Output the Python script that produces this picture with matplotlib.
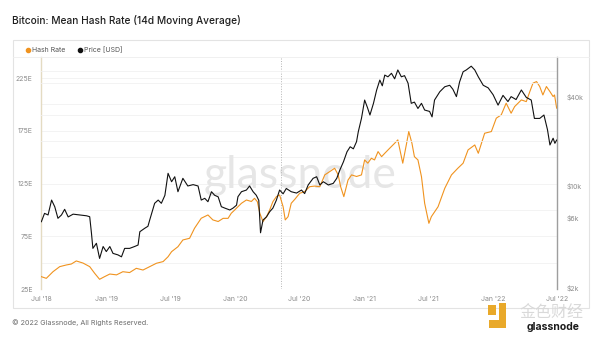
import matplotlib
matplotlib.use('Agg')
import matplotlib.pyplot as plt
import numpy as np
from matplotlib.lines import Line2D
from matplotlib.patches import Rectangle, Polygon
from matplotlib.ticker import FixedLocator, NullLocator

plt.rcParams['font.family'] = ['Inter', 'DejaVu Sans']

# ---------------- data ----------------
hash_dates = [
    "2018-07-01", "2018-07-15", "2018-08-03", "2018-08-22", "2018-09-10", "2018-09-24",
    "2018-10-08", "2018-10-27", "2018-11-15", "2018-11-29", "2018-12-13", "2018-12-27",
    "2019-01-11", "2019-01-30", "2019-02-17", "2019-03-08", "2019-03-27", "2019-04-15",
    "2019-05-04", "2019-05-23", "2019-06-11", "2019-06-25", "2019-07-05", "2019-07-23",
    "2019-08-06", "2019-08-25", "2019-09-08", "2019-09-27", "2019-10-16", "2019-10-30",
    "2019-11-14", "2019-11-28", "2019-12-12", "2019-12-21", "2019-12-31",
    "2020-01-09", "2020-01-19", "2020-02-02", "2020-02-16", "2020-02-25", "2020-03-04",
    "2020-03-11", "2020-03-20", "2020-03-30", "2020-04-08", "2020-04-17", "2020-04-27",
    "2020-05-06", "2020-05-16", "2020-05-22", "2020-05-30", "2020-06-08", "2020-06-18",
    "2020-07-02", "2020-07-16", "2020-07-30", "2020-08-13", "2020-08-28", "2020-09-11",
    "2020-09-25", "2020-10-09", "2020-10-19", "2020-10-26", "2020-11-04", "2020-11-16",
    "2020-11-26", "2020-12-10", "2020-12-24",
    "2021-01-02", "2021-01-11", "2021-01-21", "2021-01-30", "2021-02-09", "2021-02-19",
    "2021-02-28", "2021-03-14", "2021-03-28", "2021-04-06", "2021-04-14", "2021-04-20",
    "2021-04-30", "2021-05-07", "2021-05-16", "2021-05-23", "2021-06-02", "2021-06-12",
    "2021-06-21", "2021-06-29", "2021-07-03", "2021-07-10", "2021-07-29", "2021-08-17",
    "2021-09-05", "2021-09-23", "2021-10-08", "2021-10-22", "2021-11-10", "2021-11-20",
    "2021-12-08", "2021-12-27",
    "2022-01-10", "2022-01-24", "2022-02-07", "2022-02-21", "2022-03-03", "2022-03-22",
    "2022-04-05", "2022-04-15", "2022-04-24", "2022-05-04", "2022-05-13", "2022-05-22",
    "2022-06-01", "2022-06-11", "2022-06-20", "2022-06-24", "2022-06-30",
]
hash_values = [
    36.7, 35.1, 41.4, 46.2, 47.8, 48.7,
    51.6, 49.6, 46.2, 39.9, 34.2, 36.7,
    39.2, 38.4, 41.4, 40.6, 44.6, 43.0,
    46.2, 49.4, 51.0, 55.6, 60.4, 65.1,
    71.5, 73.1, 82.6, 92.1, 95.2, 90.5,
    89.0, 92.0, 92.0, 96.8, 100.0,
    103.0, 106.3, 109.4, 108.0, 111.0, 107.8,
    96.8, 88.9, 93.6, 100.0, 107.8, 112.6,
    114.2, 103.0, 90.5, 93.6, 106.3, 110.0,
    115.8, 117.3, 122.0, 122.6, 122.0, 133.2,
    136.3, 139.5, 133.2, 122.0, 112.6, 128.4,
    133.2, 131.7, 133.2,
    147.4, 144.3, 149.0, 147.4, 155.3, 150.5,
    153.7, 158.5, 163.2, 166.4, 153.7, 144.3,
    161.6, 174.3, 163.2, 150.5, 147.4, 131.5,
    106.3, 93.6, 87.3, 93.6, 103.0, 120.5,
    133.2, 139.5, 144.3, 156.9, 161.6, 153.7,
    172.7, 174.3,
    187.0, 190.1, 201.2, 191.7, 198.0, 204.3,
    202.7, 212.2, 220.2, 221.7, 217.0, 209.0,
    217.0, 212.2, 207.5, 209.0, 196.5,
]

price_dates = [
    "2018-07-01", "2018-07-10", "2018-07-20", "2018-07-30", "2018-08-08", "2018-08-17",
    "2018-08-27", "2018-09-05", "2018-09-15", "2018-09-29", "2018-10-18", "2018-11-06",
    "2018-11-15", "2018-11-20", "2018-11-24", "2018-12-04", "2018-12-13", "2018-12-23",
    "2019-01-01", "2019-01-11", "2019-01-20", "2019-02-03", "2019-02-13", "2019-02-22",
    "2019-03-08", "2019-03-22", "2019-04-01", "2019-04-06", "2019-04-20", "2019-04-29",
    "2019-05-04", "2019-05-18", "2019-05-28", "2019-06-06", "2019-06-16", "2019-06-25",
    "2019-07-05", "2019-07-14", "2019-07-23", "2019-08-06", "2019-08-20", "2019-09-04",
    "2019-09-18", "2019-09-27", "2019-10-07", "2019-10-16", "2019-10-26", "2019-11-04",
    "2019-11-14", "2019-11-23", "2019-12-03", "2019-12-17", "2019-12-26",
    "2020-01-05", "2020-01-09", "2020-01-19", "2020-02-02", "2020-02-11", "2020-02-21",
    "2020-03-01", "2020-03-08", "2020-03-13", "2020-03-20", "2020-03-30", "2020-04-08",
    "2020-04-17", "2020-04-27", "2020-05-06", "2020-05-16", "2020-05-25", "2020-06-08",
    "2020-06-23", "2020-07-07", "2020-07-16", "2020-07-26", "2020-08-09", "2020-08-19",
    "2020-08-28", "2020-09-07", "2020-09-21", "2020-10-05", "2020-10-15", "2020-10-24",
    "2020-11-03", "2020-11-13", "2020-11-22", "2020-12-01", "2020-12-10", "2020-12-15",
    "2020-12-24",
    "2021-01-02", "2021-01-10", "2021-01-17", "2021-01-27", "2021-02-05", "2021-02-14",
    "2021-02-21", "2021-02-28", "2021-03-09", "2021-03-19", "2021-03-28", "2021-04-06",
    "2021-04-16", "2021-04-25", "2021-05-05", "2021-05-14", "2021-05-23", "2021-06-02",
    "2021-06-12", "2021-06-21", "2021-07-05", "2021-07-12", "2021-07-19", "2021-08-03",
    "2021-08-17", "2021-08-31", "2021-09-09", "2021-09-19", "2021-09-28", "2021-10-08",
    "2021-10-17", "2021-10-31", "2021-11-10", "2021-11-20", "2021-12-04", "2021-12-18",
    "2022-01-01", "2022-01-15", "2022-01-29", "2022-02-12", "2022-02-21", "2022-03-07",
    "2022-03-22", "2022-04-05", "2022-04-19", "2022-04-28", "2022-05-13", "2022-05-25",
    "2022-06-04", "2022-06-11", "2022-06-20", "2022-06-25", "2022-06-30",
]
price_values = [
    5650, 6440, 6280, 7930, 7140, 5960,
    6280, 6860, 6090, 6360, 6280, 6200,
    6110, 4710, 3720, 4030, 3180, 3830,
    3540, 3830, 3440, 3360, 3260, 3720,
    3720, 3830, 3920, 4830, 5100, 5260,
    5800, 7540, 7930, 7540, 8540, 12060,
    10570, 11430, 9040, 11150, 9890, 10100,
    9890, 7930, 8150, 7730, 9040, 8550,
    8340, 7150, 6990, 6790, 6990,
    7320, 8360, 9040, 9280, 9890, 9040,
    8550, 7900, 4750, 5800, 6100, 6610,
    6990, 7930, 9280, 8750, 9510, 9040,
    8850, 9280, 8780, 10050, 11150, 11430,
    10050, 10570, 10050, 10300, 11150, 12740,
    14460, 16900, 18280, 17700, 19790, 23140,
    28530,
    38000, 33750, 30060, 36100, 44460, 52000,
    47500, 56200, 54700, 57800, 53000, 60900,
    54700, 55700, 49500, 36100, 36800, 33300,
    36100, 32500, 31800, 29200, 38000, 43300,
    46800, 47900, 45000, 40100, 50500, 59200,
    60900, 64600, 60900, 54700, 47900, 46000,
    41300, 35100, 40900, 37100, 40100, 38300,
    44500, 39600, 38000, 28500, 28500, 30060,
    23900, 18800, 20900, 19300, 20300,
]

hash_ticks = [25, 75, 125, 175, 225]
hash_tick_labels = ["25E", "75E", "125E", "175E", "225E"]
price_ticks = [2000, 6000, 10000, 40000]
price_tick_labels = ["$2k", "$6k", "$10k", "$40k"]
x_ticks = ["2018-07-01", "2019-01-01", "2019-07-01", "2020-01-01", "2020-07-01",
           "2021-01-01", "2021-07-01", "2022-01-01", "2022-07-01"]
x_tick_labels = ["Jul '18", "Jan '19", "Jul '19", "Jan '20", "Jul '20",
                 "Jan '21", "Jul '21", "Jan '22", "Jul '22"]
halving_date = "2020-05-11"

# ---------------- figure ----------------
W, H = 600, 338
fig = plt.figure(figsize=(6, 3.38), dpi=100)
fig.patch.set_facecolor('white')


def fx(x):
    return x / W


def fy(y):
    return 1 - y / H


ORANGE = '#f0931f'
BLACK = '#111111'
TICK_C = '#8c8c8c'

ax = fig.add_axes([fx(41), fy(289), fx(557) - fx(41), fy(57) - fy(289)])
ax.patch.set_visible(False)
ax2 = ax.twinx()

hd = np.array(hash_dates, dtype='datetime64[D]')
pd_ = np.array(price_dates, dtype='datetime64[D]')

ax.plot(hd, hash_values, color=ORANGE, lw=0.8, zorder=3, solid_joinstyle='round')
ax2.plot(pd_, price_values, color=BLACK, lw=0.8, zorder=3, solid_joinstyle='round')

ax.set_xlim(np.datetime64('2018-06-30'), np.datetime64('2022-06-30'))
ax.set_ylim(25, 245)
ax2.set_yscale('log')
ax2.set_ylim(1969, 74600)

# grid lines
for v in np.arange(50, 245, 25):
    ax.axhline(v, color='#f1f1f1', lw=0.6, zorder=0)
for v in [20000, 30000, 50000, 60000]:
    ax2.axhline(v, color='#f1f1f1', lw=0.6, zorder=0)

# halving dotted line
ax.axvline(np.datetime64(halving_date), color='#b5b5b5', lw=0.7,
           ls=(0, (1, 1.6)), zorder=1)

# ticks
ax.set_xticks(np.array(x_ticks, dtype='datetime64[D]'))
ax.set_xticklabels(x_tick_labels)
ax.xaxis.set_minor_locator(NullLocator())
ax.set_yticks(hash_ticks)
ax.set_yticklabels(hash_tick_labels)
ax2.yaxis.set_major_locator(FixedLocator(price_ticks))
ax2.yaxis.set_minor_locator(NullLocator())
ax2.set_yticklabels(price_tick_labels)

ax.tick_params(axis='x', length=0, pad=5, labelsize=5, labelcolor=TICK_C)
ax.tick_params(axis='y', length=0, pad=6, labelsize=5, labelcolor=TICK_C)
ax2.tick_params(axis='y', length=0, pad=7, labelsize=5, labelcolor=TICK_C)

for a in (ax, ax2):
    for s in ('top', 'bottom'):
        a.spines[s].set_visible(False)
ax.spines['right'].set_visible(False)
ax2.spines['left'].set_visible(False)
ax.spines['left'].set_color('#e4dbc2')
ax.spines['left'].set_linewidth(1.0)
ax2.spines['right'].set_color('#9e9e9e')
ax2.spines['right'].set_linewidth(1.0)

# watermark in the plot
ax.text(fx(300), fy(175), 'glassnode', transform=fig.transFigure, fontsize=32,
        family=['Lato', 'DejaVu Sans'], color='#e6e6e6', ha='center', va='center', zorder=0)

# ---------------- card & header ----------------
fig.add_artist(Rectangle((fx(12.5), fy(307.5)), fx(589) - fx(12.5), fy(40) - fy(307.5),
                         transform=fig.transFigure, fill=False, ec='#e3e3e3', lw=0.8))
fig.add_artist(Line2D([fx(12.5), fx(589)], [fy(57), fy(57)], transform=fig.transFigure,
                      color='#eeeeee', lw=0.6))

fig.text(fx(12), fy(20), 'Bitcoin: Mean Hash Rate (14d Moving Average)', fontsize=7.3,
         color='#1e1e1e', ha='left', va='center', weight='medium')

# legend
fig.add_artist(Line2D([fx(28)], [fy(50)], transform=fig.transFigure, marker='o', ms=3,
                      color=ORANGE, lw=0))
fig.text(fx(32.5), fy(50), 'Hash Rate', fontsize=5, color='#555555', ha='left', va='center')
fig.add_artist(Line2D([fx(80)], [fy(50)], transform=fig.transFigure, marker='o', ms=3,
                      color=BLACK, lw=0))
fig.text(fx(84.5), fy(50), 'Price [USD]', fontsize=5, color='#555555', ha='left', va='center')

# footer
fig.text(fx(12), fy(323), '\u00a9 2022 Glassnode, All Rights Reserved.', fontsize=5.2,
         color='#6d6d6d', ha='left', va='center')

# bottom-right source watermark
GOLD = '#e9a92a'
fig.add_artist(Polygon([(fx(489), fy(328)), (fx(506), fy(328)), (fx(506), fy(303)),
                        (fx(499), fy(303)), (fx(499), fy(320)), (fx(489), fy(320))],
                       closed=True, transform=fig.transFigure, color=GOLD, lw=0))
fig.add_artist(Rectangle((fx(488), fy(315)), fx(496) - fx(488), fy(305) - fy(315),
                         transform=fig.transFigure, color=GOLD, lw=0))
fig.text(fx(551), fy(312), '金色财经', fontsize=11.5, family=['Noto Sans CJK SC', 'DejaVu Sans'],
         color='#d9d9d9', ha='center', va='center')
fig.text(fx(553), fy(327.5), 'glassnode', fontsize=7.5, color='#1a1a1a', ha='center',
         va='center', weight='bold')

fig.savefig('out.png', dpi=100, facecolor='white')
